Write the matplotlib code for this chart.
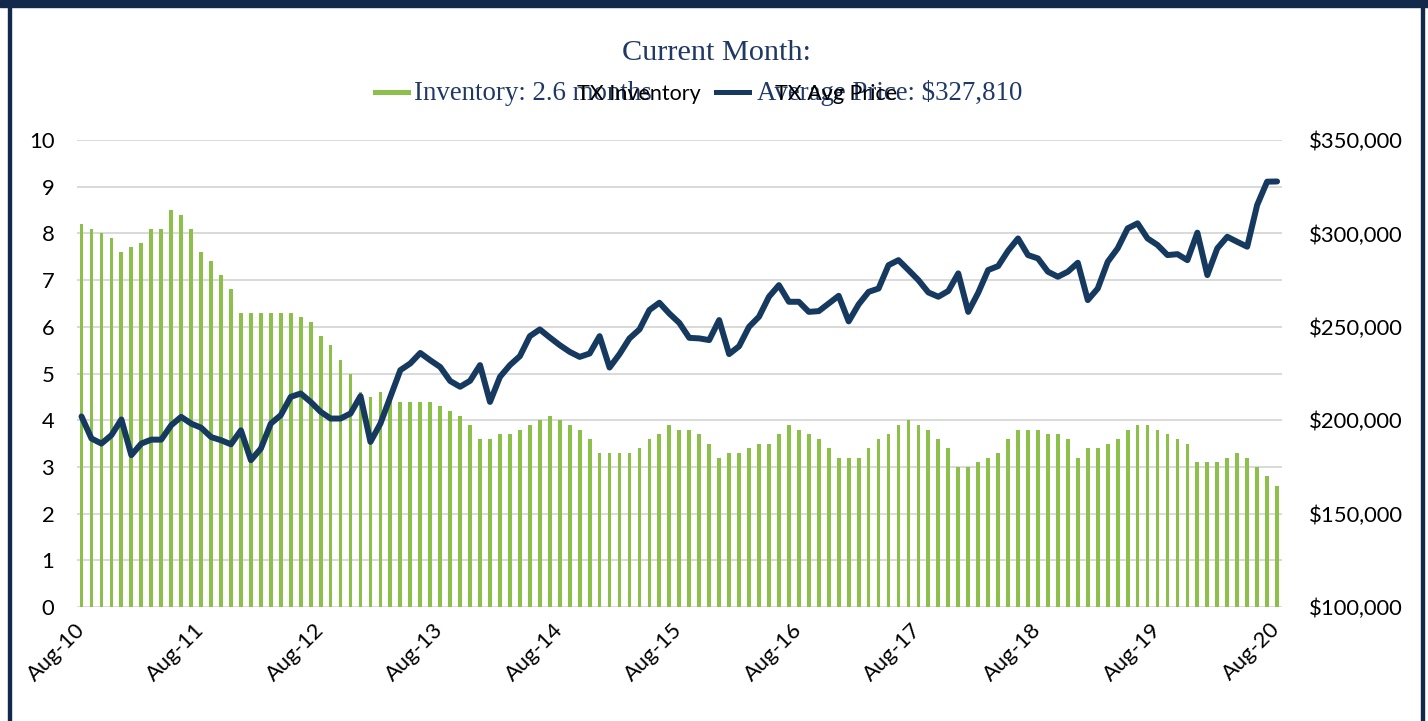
import numpy as np
import matplotlib
matplotlib.use("Agg")
from matplotlib import pyplot as plt
from matplotlib.lines import Line2D
from matplotlib.patches import Rectangle
from matplotlib.ticker import FuncFormatter

# monthly data, Aug-10 .. Aug-20
inventory = [8.2, 8.1, 8.0, 7.9, 7.6, 7.7, 7.8, 8.1, 8.1, 8.5,
             8.4, 8.1, 7.6, 7.4, 7.1, 6.8, 6.3, 6.3, 6.3, 6.3,
             6.3, 6.3, 6.2, 6.1, 5.8, 5.6, 5.3, 5.0, 4.6, 4.5,
             4.6, 4.5, 4.4, 4.4, 4.4, 4.4, 4.3, 4.2, 4.1, 3.9,
             3.6, 3.6, 3.7, 3.7, 3.8, 3.9, 4.0, 4.1, 4.0, 3.9,
             3.8, 3.6, 3.3, 3.3, 3.3, 3.3, 3.4, 3.6, 3.7, 3.9,
             3.8, 3.8, 3.7, 3.5, 3.2, 3.3, 3.3, 3.4, 3.5, 3.5,
             3.7, 3.9, 3.8, 3.7, 3.6, 3.4, 3.2, 3.2, 3.2, 3.4,
             3.6, 3.7, 3.9, 4.0, 3.9, 3.8, 3.6, 3.4, 3.0, 3.0,
             3.1, 3.2, 3.3, 3.6, 3.8, 3.8, 3.8, 3.7, 3.7, 3.6,
             3.2, 3.4, 3.4, 3.5, 3.6, 3.8, 3.9, 3.9, 3.8, 3.7,
             3.6, 3.5, 3.1, 3.1, 3.1, 3.2, 3.3, 3.2, 3.0, 2.8, 2.6]

avg_price = [202000, 190200, 187500, 192000, 200400, 181300, 187500, 189600, 189600, 197300,
             201800, 198200, 196000, 191000, 189300, 187100, 194600, 178600, 184800, 198200,
             202700, 212500, 214300, 209800, 204500, 200900, 200900, 203600, 212900, 188400,
             198200, 212500, 226800, 230400, 236000, 232100, 228500, 221000, 217900, 221100,
             229500, 209800, 223200, 229500, 234300, 245000, 248600, 244300, 240200, 236600,
             233900, 235700, 245000, 228200, 235400, 243800, 248600, 259000, 262900, 257100,
             252100, 244100, 243800, 242900, 253600, 235400, 239600, 250000, 255400, 266100,
             272300, 263400, 263400, 258000, 258400, 262500, 266600, 252900, 262000, 268700,
             270500, 283000, 285700, 280400, 275000, 268400, 266100, 269200, 278600, 258000,
             268200, 280400, 282500, 290700, 297300, 288400, 286600, 279500, 276800, 279500,
             284300, 264300, 270500, 284800, 292000, 302700, 305400, 297300, 293800, 288400,
             288900, 285700, 300400, 277700, 292000, 298200, 295500, 292900, 315200, 327700, 327810]

tick_labels = ["Aug-10", "Aug-11", "Aug-12", "Aug-13", "Aug-14", "Aug-15",
               "Aug-16", "Aug-17", "Aug-18", "Aug-19", "Aug-20"]

green = "#8cc04a"
navy = "#163a5f"
frame = "#13294b"
sans = "Lato"
serif = "Liberation Serif"

x = np.arange(len(inventory))

fig = plt.figure(figsize=(14.28, 7.21), dpi=100)
ax = fig.add_axes([0.0536, 0.1581, 0.8442, 0.6477])

ax.bar(x, inventory, width=0.38, color=green, zorder=2)
ax.set_xlim(-0.5, len(x) - 0.5)
ax.set_ylim(0, 10)
ax.set_yticks(range(0, 11))
ax.grid(axis="y", color="#d9d9d9", linewidth=1.4, zorder=0)
ax.set_axisbelow(True)
for s in ax.spines.values():
    s.set_visible(False)
ax.set_xticks(x[::12])
ax.set_xticklabels(tick_labels, rotation=45, ha="right", va="center",
                   rotation_mode="anchor", fontsize=15.8, family=sans)
ax.tick_params(axis="both", length=0)
ax.tick_params(axis="x", pad=14)
ax.tick_params(axis="y", pad=16, labelsize=15.8)
for t in ax.get_yticklabels():
    t.set_family(sans)

ax2 = ax.twinx()
ax2.plot(x, avg_price, color=navy, linewidth=4.3, solid_joinstyle="round",
         solid_capstyle="round", zorder=3)
ax2.set_ylim(100000, 350000)
ax2.set_yticks(range(100000, 350001, 50000))
ax2.yaxis.set_major_formatter(FuncFormatter(lambda v, p: "${:,.0f}".format(v)))
ax2.tick_params(axis="y", length=0, pad=19, labelsize=15.8)
for t in ax2.get_yticklabels():
    t.set_family(sans)
for s in ax2.spines.values():
    s.set_visible(False)

# header texts (overlapping, as in the original)
fig.text(0.5018, 1 - 60 / 721, "Current Month:", ha="center", va="baseline",
         fontsize=21.8, family=serif, color="#1f3864")
fig.add_artist(Line2D([375 / 1428, 408 / 1428], [1 - 92 / 721] * 2, color=green, linewidth=3.6))
fig.add_artist(Line2D([716 / 1428, 749 / 1428], [1 - 92 / 721] * 2, color=navy, linewidth=3.6))
fig.text(414 / 1428, 1 - 100 / 721, "Inventory: 2.6 months", ha="left", va="baseline",
         fontsize=19.4, family=serif, color="#1f3864")
fig.text(757 / 1428, 1 - 100 / 721, "Average Price: $327,810", ha="left", va="baseline",
         fontsize=19.4, family=serif, color="#1f3864")
fig.text(577 / 1428, 1 - 100.5 / 721, "TX Inventory", ha="left", va="baseline",
         fontsize=15.5, family=sans, color="black")
fig.text(775 / 1428, 1 - 100.5 / 721, "TX Avg Price", ha="left", va="baseline",
         fontsize=15.5, family=sans, color="black")

# frame around the picture
fig.patches.append(Rectangle((0, 1 - 7 / 721), 1, 7 / 721, transform=fig.transFigure,
                             color=frame, zorder=5))
fig.patches.append(Rectangle((8 / 1428, 0), 2.5 / 1428, 1, transform=fig.transFigure,
                             color=frame, zorder=5))
fig.patches.append(Rectangle((1421 / 1428, 0), 2.5 / 1428, 1, transform=fig.transFigure,
                             color=frame, zorder=5))

fig.savefig("out.png", dpi=100)
